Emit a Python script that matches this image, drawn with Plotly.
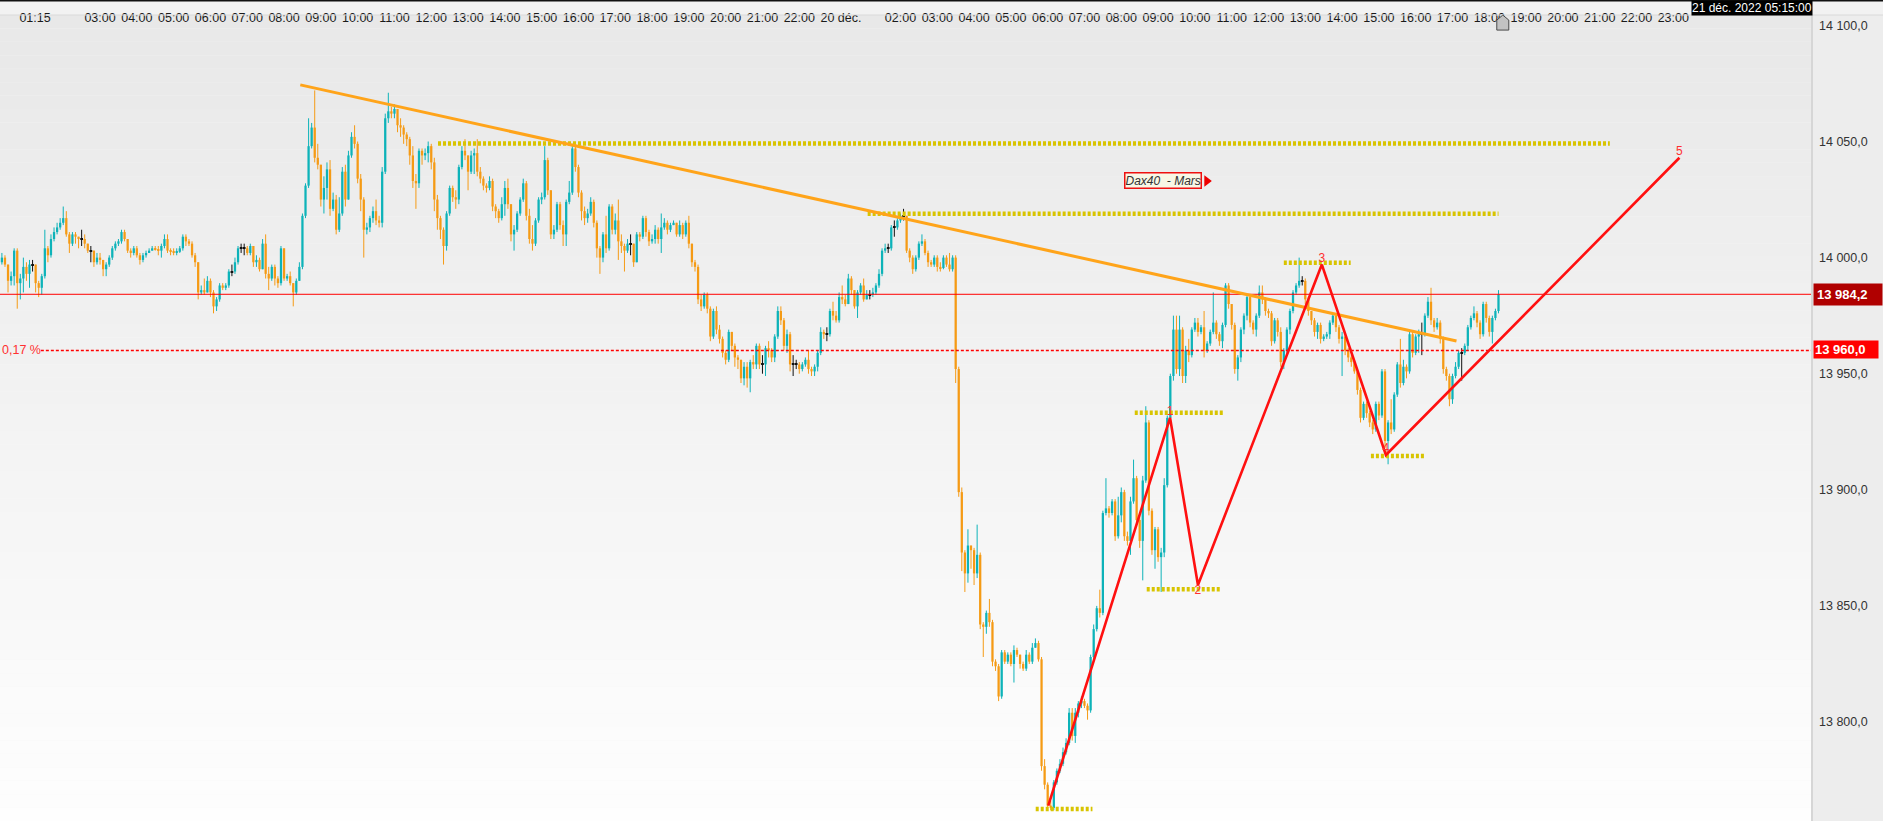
import plotly.graph_objects as go

# ---------------------------------------------------------------------------
# DAX 40 future (March contract), 5-minute bars, 19-20 December 2022.
# Bars are indexed by slot (one slot per 5-minute bar, session gaps removed).
# Open of each bar = close of the previous bar.
# ---------------------------------------------------------------------------
FIRST_OPEN = 13998.0

CLOSE = [
    # 0-99
    14000, 13997, 13990, 13992, 14003, 13989, 13991, 13996, 13993, 13997,
    13997, 13989, 13987, 13992, 14004, 14001, 14008, 14011, 14013, 14015,
    14017, 14010, 14006, 14010, 14009, 14008, 14008, 14006, 14003, 14003,
    13998, 14000, 13999, 13995, 13997, 14000, 14004, 14006, 14007, 14011,
    14008, 14003, 14002, 14004, 14001, 13999, 14001, 14002, 14003, 14004,
    14003.5, 14003, 14005, 14008, 14003, 14002.5, 14002, 14002.5, 14004, 14009,
    14007, 14006, 14001, 13998, 13985, 13986, 13985, 13990, 13985, 13979,
    13982, 13988, 13987, 13988, 13994, 13994, 13998, 14004, 14004, 14004,
    14002, 14005, 13998, 13999, 13995, 14006, 13993, 13991, 13996, 13991,
    13989, 14004, 13991, 13992, 13989, 13985, 13990, 13996, 14018, 14031,
    # 100-199
    14048, 14056, 14043, 14040, 14025, 14030, 14038, 14021, 14025, 14012,
    14019, 14037, 14025, 14044, 14052, 14049, 14034, 14025, 14012, 14013,
    14017, 14020, 14016, 14015, 14037, 14060, 14063, 14062, 14064, 14057,
    14056, 14053, 14051, 14044, 14033, 14032, 14046, 14044, 14045, 14048,
    14041, 14025, 14017, 14012, 14005, 14019, 14030, 14026, 14025, 14039,
    14046, 14044, 14037, 14044, 14045, 14037, 14034, 14031, 14030, 14033,
    14022, 14020, 14017, 14023, 14030, 14023, 14010, 14012, 14019, 14025,
    14032, 14018, 14008, 14006, 14016, 14025, 14026, 14042, 14029, 14010,
    14012, 14023, 14014, 14010, 14024, 14028, 14047, 14039, 14028, 14020,
    14017, 14019, 14024, 14015, 14004, 14000, 14010, 14004, 14022, 14012,
    # 200-299
    14016, 14007, 14005, 14003, 14006, 14006, 13998, 14010, 14009, 14017,
    14011, 14007, 14008, 14012, 14008, 14013, 14015, 14012, 14014, 14015,
    14010, 14014, 14010, 14015, 14006, 13998, 13996, 13982, 13979, 13984,
    13978, 13966, 13977, 13969, 13965, 13959, 13956, 13968, 13962, 13957,
    13956, 13948, 13953, 13948, 13955, 13954, 13962, 13954, 13954, 13961,
    13960, 13957, 13966, 13977, 13973, 13962, 13967, 13954, 13954, 13954,
    13952, 13954, 13956, 13952, 13951, 13953, 13959, 13968, 13967, 13967,
    13977, 13975, 13973, 13983, 13982, 13980, 13991, 13986, 13979, 13985,
    13988, 13982, 13984, 13984, 13985, 13988, 13993, 14003, 14004, 14004,
    14013, 14013, 14016, 14018, 14018, 14003, 14000, 13995, 14000, 14006,
    # 300-399
    14007, 14002, 13998, 13997, 14000, 13996, 13995.5, 14000, 13997, 13995,
    14000, 13952, 13899, 13873, 13864, 13876, 13874, 13864, 13872, 13842,
    13841, 13847, 13843, 13826, 13824, 13811, 13830, 13826, 13829, 13825,
    13831, 13829, 13825, 13823, 13829, 13826, 13832, 13834, 13827, 13781,
    13773, 13764, 13763, 13774, 13779, 13782, 13787, 13791, 13804, 13794,
    13804, 13808, 13809, 13807, 13805, 13828, 13840, 13849, 13847, 13890,
    13892, 13890, 13895, 13880, 13889, 13899, 13880, 13878, 13895, 13905,
    13887, 13878, 13904, 13929, 13891, 13874, 13883, 13871, 13873, 13902,
    13931, 13949, 13969, 13952, 13969, 13949, 13960, 13958, 13969, 13972,
    13968, 13970, 13960, 13963, 13968, 13972, 13967, 13964, 13971, 13988,
    # 400-488
    13980, 13971, 13952, 13957, 13969, 13975, 13983, 13972, 13969, 13975,
    13985, 13982, 13977, 13976, 13964, 13973, 13968, 13955, 13960, 13969,
    13977, 13985, 13988, 13990, 13990, 13982, 13977, 13973, 13968, 13971,
    13965, 13966, 13967, 13972, 13975, 13970, 13965, 13966, 13960, 13957,
    13955, 13951, 13943, 13931, 13937, 13933, 13929, 13926, 13937, 13932,
    13951, 13921, 13929, 13926, 13941, 13954, 13946, 13953, 13951, 13967,
    13959, 13966, 13967, 13967, 13975, 13981, 13973, 13970, 13972, 13965,
    13952, 13949, 13939, 13949, 13953, 13959, 13959, 13962, 13970, 13974,
    13976, 13972, 13967, 13980, 13974, 13968, 13974, 13977, 13984.2,
]

HIGH = [
    # 0-99
    14002, 14001, 13997, 13994, 14004, 14004, 13993, 14000, 13998, 13999,
    13999, 13997, 13990, 13993, 14012, 14005, 14010, 14013, 14015, 14017,
    14022, 14020, 14011, 14011, 14011, 14009, 14012, 14010, 14006, 14005,
    14003, 14002, 14002, 13999, 13998, 14001, 14005, 14007, 14008, 14012,
    14012, 14008, 14004, 14005, 14005, 14002, 14002, 14003, 14004, 14005,
    14005, 14005, 14006, 14010, 14010, 14004, 14004, 14004, 14005, 14010,
    14010, 14008, 14007, 14002, 13998, 13988, 13991, 13992, 13991, 13986,
    13983, 13989, 13989, 13989, 13995, 13997, 14000, 14005, 14006, 14006,
    14005, 14006, 14005, 14001, 14000, 14008, 14010, 13996, 13997, 13997,
    13992, 14005, 14004, 13993, 13994, 13988, 13991, 13998, 14019, 14032,
    # 100-199
    14060, 14058, 14072, 14049, 14037, 14035, 14041, 14042, 14028, 14027,
    14026, 14039, 14040, 14046, 14054, 14057, 14050, 14036, 14026, 14015,
    14018, 14022, 14025, 14018, 14039, 14062, 14071, 14065, 14066, 14064,
    14060, 14057, 14054, 14052, 14048, 14036, 14047, 14047, 14047, 14050,
    14049, 14043, 14027, 14018, 14013, 14020, 14031, 14031, 14029, 14040,
    14048, 14051, 14044, 14046, 14047, 14051, 14039, 14035, 14032, 14035,
    14034, 14023, 14021, 14026, 14033, 14034, 14023, 14014, 14020, 14026,
    14034, 14033, 14021, 14014, 14017, 14026, 14028, 14048, 14043, 14026,
    14014, 14024, 14024, 14016, 14025, 14033, 14049, 14048, 14040, 14029,
    14022, 14021, 14026, 14025, 14016, 14005, 14011, 14018, 14023, 14023,
    # 200-299
    14019, 14025, 14010, 14006, 14008, 14010, 14006, 14011, 14011, 14018,
    14018, 14012, 14010, 14014, 14013, 14019, 14017, 14016, 14015, 14016,
    14015, 14016, 14015, 14016, 14018, 14006, 13999, 13997, 13984, 13985,
    13985, 13979, 13978, 13979, 13971, 13966, 13960, 13969, 13968, 13963,
    13958, 13956, 13955, 13955, 13956, 13958, 13963, 13963, 13958, 13962,
    13964, 13961, 13967, 13979, 13979, 13974, 13969, 13968, 13958, 13956,
    13955, 13955, 13957, 13960, 13953, 13954, 13960, 13970, 13969, 13970,
    13978, 13981, 13977, 13985, 13988, 13984, 13993, 13992, 13986, 13986,
    13989, 13991, 13986, 13986, 13987, 13989, 13995, 14004, 14006, 14006,
    14014, 14016, 14017, 14019, 14021, 14018, 14004, 14001, 14001, 14007,
    # 300-399
    14010, 14008, 14003, 13999, 14001, 14001, 13998, 14001, 14001, 14002,
    14001, 14001, 13953, 13901, 13874, 13883, 13876, 13875, 13885, 13873,
    13843, 13848, 13853, 13844, 13827, 13825, 13831, 13831, 13830, 13830,
    13833, 13832, 13829, 13826, 13831, 13830, 13834, 13836, 13835, 13828,
    13784, 13774, 13766, 13775, 13780, 13784, 13789, 13793, 13806, 13806,
    13806, 13809, 13811, 13810, 13808, 13829, 13842, 13850, 13857, 13891,
    13905, 13893, 13896, 13896, 13897, 13901, 13900, 13882, 13897, 13913,
    13906, 13890, 13906, 13936, 13930, 13892, 13884, 13884, 13875, 13905,
    13932, 13950, 13975, 13975, 13975, 13970, 13962, 13965, 13970, 13974,
    13974, 13971, 13977, 13964, 13969, 13985, 13973, 13968, 13972, 13989,
    # 400-488
    13989, 13980, 13972, 13958, 13970, 13976, 13984, 13984, 13973, 13976,
    13988, 13988, 13983, 13978, 13977, 13974, 13974, 13970, 13961, 13970,
    13978, 13986, 13989, 14000, 13992, 13991, 13983, 13977, 13974, 13972,
    13972, 13967, 13968, 13973, 13976, 13976, 13971, 13968, 13967, 13961,
    13958, 13955, 13952, 13944, 13938, 13938, 13934, 13930, 13938, 13938,
    13952, 13952, 13930, 13939, 13942, 13955, 13965, 13956, 13954, 13968,
    13968, 13967, 13969, 13972, 13976, 13983, 13987, 13974, 13974, 13973,
    13966, 13953, 13950, 13950, 13955, 13960, 13961, 13963, 13971, 13975,
    13979, 13977, 13973, 13981, 13981, 13975, 13975, 13978, 13986,
]

LOW = [
    # 0-99
    13997, 13996, 13985, 13988, 13988, 13978, 13982, 13985, 13990, 13987,
    13994, 13985, 13983, 13984, 13991, 13998, 14000, 14007, 14010, 14012,
    14014, 14009, 14002, 14005, 14006, 14004, 14005, 14004, 14002, 13998,
    13996, 13997, 13997, 13992, 13992, 13996, 13999, 14003, 14005, 14006,
    14007, 14002, 14000, 14001, 14000, 13997, 13998, 14000, 14002, 14003,
    14003, 14001, 14000, 14004, 14002, 14001, 14001, 14001, 14002, 14003,
    14005, 14005, 14000, 13996, 13982, 13984, 13984, 13985, 13983, 13976,
    13977, 13981, 13986, 13986, 13987, 13992, 13993, 13997, 14002, 14001,
    14001, 14001, 13996, 13996, 13994, 13995, 13991, 13986, 13990, 13988,
    13987, 13988, 13990, 13990, 13988, 13979, 13984, 13990, 13995, 14017,
    # 100-199
    14030, 14047, 14041, 14038, 14022, 14019, 14025, 14018, 14020, 14010,
    14011, 14018, 14022, 14025, 14043, 14047, 14032, 14020, 14000, 14010,
    14011, 14015, 14014, 14013, 14013, 14036, 14058, 14060, 14060, 14054,
    14052, 14049, 14048, 14040, 14030, 14021, 14030, 14040, 14042, 14041,
    14038, 14020, 14012, 14008, 13997, 14003, 14018, 14024, 14021, 14023,
    14038, 14042, 14029, 14036, 14036, 14035, 14032, 14029, 14028, 14029,
    14020, 14017, 14015, 14016, 14018, 14021, 14007, 14003, 14011, 14018,
    14024, 14016, 14006, 14003, 14005, 14015, 14023, 14025, 14027, 14008,
    14008, 14011, 14012, 14005, 14005, 14023, 14027, 14037, 14026, 14016,
    14014, 14015, 14018, 14013, 14000, 13993, 13998, 14002, 14003, 14010,
    # 200-299
    14010, 13999, 14002, 13994, 14002, 14001, 13996, 13998, 14007, 14008,
    14009, 14005, 14006, 14006, 14006, 14002, 14012, 14010, 14011, 14014,
    14009, 14009, 14008, 14009, 14004, 13996, 13994, 13980, 13977, 13978,
    13976, 13964, 13965, 13967, 13963, 13957, 13954, 13955, 13960, 13953,
    13952, 13946, 13945, 13944, 13942, 13952, 13952, 13952, 13950, 13949,
    13957, 13955, 13955, 13965, 13971, 13960, 13959, 13951, 13949, 13952,
    13950, 13951, 13953, 13950, 13949, 13949, 13951, 13958, 13965, 13964,
    13966, 13973, 13972, 13972, 13980, 13979, 13980, 13984, 13978, 13974,
    13984, 13981, 13982, 13982, 13983, 13984, 13987, 13992, 14002, 14002,
    14003, 14009, 14012, 14015, 14016, 14002, 13998, 13993, 13994, 13999,
    # 300-399
    14005, 14001, 13996, 13996, 13996, 13994, 13994, 13995, 13996, 13994,
    13994, 13946, 13897, 13865, 13856, 13860, 13866, 13859, 13862, 13840,
    13828, 13838, 13841, 13824, 13822, 13809, 13810, 13825, 13825, 13824,
    13817, 13828, 13823, 13822, 13822, 13825, 13825, 13832, 13826, 13779,
    13771, 13763, 13762, 13762, 13773, 13778, 13781, 13786, 13790, 13792,
    13791, 13802, 13806, 13806, 13801, 13804, 13827, 13839, 13845, 13846,
    13889, 13888, 13889, 13878, 13879, 13886, 13878, 13876, 13872, 13894,
    13885, 13875, 13861, 13903, 13889, 13872, 13866, 13869, 13856, 13871,
    13901, 13929, 13947, 13950, 13949, 13946, 13946, 13955, 13957, 13968,
    13966, 13967, 13957, 13959, 13962, 13967, 13965, 13962, 13961, 13970,
    # 400-488
    13978, 13969, 13950, 13947, 13955, 13967, 13973, 13970, 13967, 13966,
    13974, 13980, 13975, 13974, 13962, 13963, 13966, 13953, 13952, 13958,
    13967, 13976, 13984, 13987, 13988, 13980, 13975, 13971, 13966, 13965,
    13963, 13964, 13965, 13965, 13971, 13968, 13963, 13949, 13958, 13955,
    13953, 13950, 13941, 13929, 13930, 13931, 13927, 13924, 13925, 13930,
    13931, 13918, 13911, 13924, 13925, 13940, 13944, 13945, 13948, 13950,
    13957, 13958, 13959, 13958, 13966, 13974, 13971, 13968, 13969, 13963,
    13950, 13947, 13936, 13937, 13948, 13952, 13947, 13958, 13960, 13969,
    13973, 13970, 13965, 13966, 13972, 13966, 13963, 13973, 13976,
]

# Time axis labels (slot positions of each label)
X_TICK_TEXT = [
    "01:15", "03:00", "04:00", "05:00", "06:00", "07:00", "08:00", "09:00",
    "10:00", "11:00", "12:00", "13:00", "14:00", "15:00", "16:00", "17:00",
    "18:00", "19:00", "20:00", "21:00", "22:00", "20 déc.",
    "02:00", "03:00", "04:00", "05:00", "06:00", "07:00", "08:00", "09:00",
    "10:00", "11:00", "12:00", "13:00", "14:00", "15:00", "16:00", "17:00",
    "18:00", "19:00", "20:00", "21:00", "22:00", "23:00",
]
X_TICK_SLOT = [
    10.8, 32, 44, 56, 68, 80, 92, 104, 116, 128, 140, 152, 164, 176, 188,
    200, 212, 224, 236, 248, 260, 273.6,
    293, 305, 317, 329, 341, 353, 365, 377, 389, 401, 413, 425, 437, 449,
    461, 473, 485, 497, 509, 521, 533, 545,
]
Y_TICKS = [13800, 13850, 13900, 13950, 14000, 14050, 14100]

# Drawing objects
TREND_SLOT = [97.3, 474.3]
TREND_PRICE = [14074.4, 13964.1]

LEVEL_PRICE = [14049.1, 14018.9, 13997.8, 13933.2, 13857.2, 13762.5, 13914.6]
LEVEL_START = [142.2, 282.3, 418.0, 369.4, 373.3, 337.1, 446.4]
LEVEL_END = [524.3, 488.0, 439.8, 398.5, 397.4, 355.6, 464.0]

WAVE_SLOT = [341.2, 380.9, 390.0, 430.4, 451.3, 547.0]
WAVE_PRICE = [13764.0, 13931.0, 13859.0, 13997.0, 13915.0, 14043.0]
WAVE_LABEL = ["", "1", "2", "3", "4", "5"]
WAVE_LABEL_POS = ["top center", "top center", "bottom center",
                  "top center", "top center", "top center"]

LAST_PRICE = 13984.2
ALERT_PRICE = 13960.0
ALERT_LABEL = "0,17 %"
ALERT_START = 12.7
CURSOR_TIME = "21 déc. 2022 05:15:00"
TAG_TEXT = "Dax40\u00a0\u00a0- Mars"
TAG_SLOT = 365.8
TAG_PRICE = 14033.0
MARKER_SLOT = 489.4
MARKER_PRICE = 14101.0

# ---------------------------------------------------------------------------
W, H = 1883, 821
M_R, M_T = 72, 15
X_RANGE = [-0.62, 589.9]
Y_RANGE = [13757.37, 14104.48]

UP = "#0eb3b9"
DOWN = "#f59b16"
FLAT = "#111111"
SANS = "Liberation Sans, Arial, sans-serif"


def price_label(v):
    s = f"{v:,.1f}"
    return s.replace(",", " ").replace(".", ",")


opens = [FIRST_OPEN] + CLOSE[:-1]
groups = {k: {"x": [], "base": [], "h": [], "wx": [], "wy": []}
          for k in ("up", "down", "flat")}
for i, (o, c, hi, lo) in enumerate(zip(opens, CLOSE, HIGH, LOW)):
    kind = "up" if c > o else ("down" if c < o else "flat")
    g = groups[kind]
    top, bot = max(o, c), min(o, c)
    if top - bot < 0.45:
        mid = (top + bot) / 2
        top, bot = mid + 0.225, mid - 0.225
    g["x"].append(i)
    g["base"].append(bot)
    g["h"].append(top - bot)
    g["wx"] += [i, i, None]
    g["wy"] += [min(lo, bot), max(hi, top), None]

colors = {"up": UP, "down": DOWN, "flat": FLAT}
fig = go.Figure()

# wicks
for k, g in groups.items():
    fig.add_trace(go.Scatter(x=g["wx"], y=g["wy"], mode="lines",
                             line=dict(color=colors[k], width=1),
                             hoverinfo="skip", showlegend=False))
# bodies
for k, g in groups.items():
    fig.add_trace(go.Bar(x=g["x"], y=g["h"], base=g["base"],
                         width=0.9 if k == "flat" else 0.74,
                         marker=dict(color=colors[k], line=dict(width=0)),
                         hoverinfo="skip", showlegend=False))

# last price line and alert line
fig.add_trace(go.Scatter(x=[X_RANGE[0], X_RANGE[1]], y=[LAST_PRICE, LAST_PRICE],
                         mode="lines", line=dict(color="#ff0000", width=1),
                         hoverinfo="skip", showlegend=False))
fig.add_trace(go.Scatter(x=[ALERT_START, X_RANGE[1]], y=[ALERT_PRICE, ALERT_PRICE],
                         mode="lines",
                         line=dict(color="#ff0000", width=1.5, dash="3px,2px"),
                         hoverinfo="skip", showlegend=False))

# horizontal support / resistance levels
lx, ly = [], []
for p, s, e in zip(LEVEL_PRICE, LEVEL_START, LEVEL_END):
    lx += [s, e, None]
    ly += [p, p, None]
fig.add_trace(go.Scatter(x=lx, y=ly, mode="lines",
                         line=dict(color="#d8c400", width=4.5, dash="3px,2px"),
                         hoverinfo="skip", showlegend=False))

# descending trend line
fig.add_trace(go.Scatter(x=TREND_SLOT, y=TREND_PRICE, mode="lines",
                         line=dict(color="#ffa41a", width=3),
                         hoverinfo="skip", showlegend=False))

# wave count
fig.add_trace(go.Scatter(x=WAVE_SLOT, y=WAVE_PRICE, mode="lines",
                         line=dict(color="#ff1010", width=2.6),
                         hoverinfo="skip", showlegend=False))
fig.add_trace(go.Scatter(x=WAVE_SLOT, y=WAVE_PRICE, mode="text",
                         text=WAVE_LABEL, textposition=WAVE_LABEL_POS,
                         textfont=dict(color="#ff3030", size=12, family=SANS),
                         hoverinfo="skip", showlegend=False))

# tag arrow
fig.add_trace(go.Scatter(x=[TAG_SLOT + 27.1], y=[TAG_PRICE], mode="markers",
                         marker=dict(symbol="triangle-right", size=10,
                                     color="#ee0000"),
                         hoverinfo="skip", showlegend=False))

shapes = []
# background gradient of the price pane
n = 60
for j in range(n):
    t = (j + 0.5) / n
    v = round(254 - (254 - 232) * t)
    shapes.append(dict(type="rect", xref="paper", yref="paper",
                       x0=0, x1=1, y0=j / n, y1=(j + 1) / n,
                       fillcolor=f"rgb({v},{v},{v})", line=dict(width=0),
                       layer="below"))
plot_h = H - M_T
plot_w = W - M_R
top_strip = 1 + M_T / plot_h
# time strip
shapes.append(dict(type="rect", xref="paper", yref="paper",
                   x0=0, x1=W / plot_w, y0=1, y1=top_strip,
                   fillcolor="#f2f2f2", line=dict(width=0), layer="below"))
shapes.append(dict(type="rect", xref="paper", yref="paper",
                   x0=0, x1=W / plot_w, y0=1 + 13.5 / plot_h, y1=top_strip,
                   fillcolor="#111111", line=dict(width=0), layer="above"))
shapes.append(dict(type="line", xref="paper", yref="paper",
                   x0=0, x1=W / plot_w, y0=1, y1=1,
                   line=dict(color="#dadada", width=1), layer="above"))
# separator between pane and price scale
shapes.append(dict(type="line", xref="paper", yref="paper",
                   x0=1 + 1 / plot_w, x1=1 + 1 / plot_w, y0=0, y1=1,
                   line=dict(color="#d6d6d6", width=2), layer="above"))
# cursor marker under the time strip
shapes.append(dict(type="path", xref="x", yref="y",
                   xsizemode="pixel", ysizemode="pixel",
                   xanchor=MARKER_SLOT, yanchor=MARKER_PRICE,
                   path="M -6 -7 L 6 -7 L 6 3 L 0 8 L -6 3 Z",
                   fillcolor="#c2c2c2", line=dict(color="#4a4a4a", width=1)))

annotations = [
    dict(xref="paper", yref="paper", x=(plot_w + 2) / plot_w,
         y=1 + 7 / plot_h, xanchor="right", yanchor="middle",
         text=CURSOR_TIME, showarrow=False, bgcolor="#000000",
         font=dict(color="#ffffff", size=12, family=SANS), borderpad=0),
    dict(xref="paper", yref="y", x=1 + 2 / plot_w, y=LAST_PRICE,
         xanchor="left", yanchor="middle", text="<b>" + price_label(LAST_PRICE) + "</b>",
         showarrow=False, bgcolor="#b00000", width=62, align="left", borderpad=3,
         font=dict(color="#ffffff", size=13, family=SANS)),
    dict(xref="paper", yref="y", x=1 + 2 / plot_w, y=ALERT_PRICE + 0.6,
         xanchor="left", yanchor="middle", text="<b>" + price_label(ALERT_PRICE) + "</b>",
         showarrow=False, bgcolor="#ff0000", width=62, align="left", borderpad=1,
         font=dict(color="#ffffff", size=13, family=SANS)),
    dict(xref="paper", yref="y", x=0, y=ALERT_PRICE, xanchor="left",
         yanchor="middle", text=ALERT_LABEL, showarrow=False,
         font=dict(color="#ff3030", size=12.5, family=SANS)),
    dict(xref="x", yref="y", x=TAG_SLOT, y=TAG_PRICE, xanchor="left",
         yanchor="middle", text="<i>" + TAG_TEXT + "</i>", showarrow=False,
         bgcolor="#f8f7e6", bordercolor="#ee1111", borderwidth=1.5, borderpad=0,
         font=dict(color="#333333", size=12, family=SANS)),
]

fig.update_layout(
    width=W, height=H,
    margin=dict(l=0, r=M_R, t=M_T, b=0, autoexpand=False),
    paper_bgcolor="#ededed", plot_bgcolor="#f6f6f6",
    barmode="overlay", showlegend=False, hovermode=False,
    shapes=shapes, annotations=annotations,
    xaxis=dict(range=X_RANGE, side="top", tickmode="array",
               tickvals=X_TICK_SLOT, ticktext=X_TICK_TEXT, tickangle=0,
               ticks="", showgrid=False, zeroline=False, showline=False,
               tickfont=dict(size=12.5, color="#1a1a1a", family=SANS),
               ticklabelstandoff=-10, fixedrange=True),
    yaxis=dict(range=Y_RANGE, side="right", tickmode="array",
               tickvals=Y_TICKS, ticktext=[price_label(v) for v in Y_TICKS],
               ticks="", showgrid=False, zeroline=False, showline=False,
               tickfont=dict(size=12.5, color="#333333", family=SANS),
               ticklabelstandoff=7, fixedrange=True),
)

fig.write_html("out.html")
